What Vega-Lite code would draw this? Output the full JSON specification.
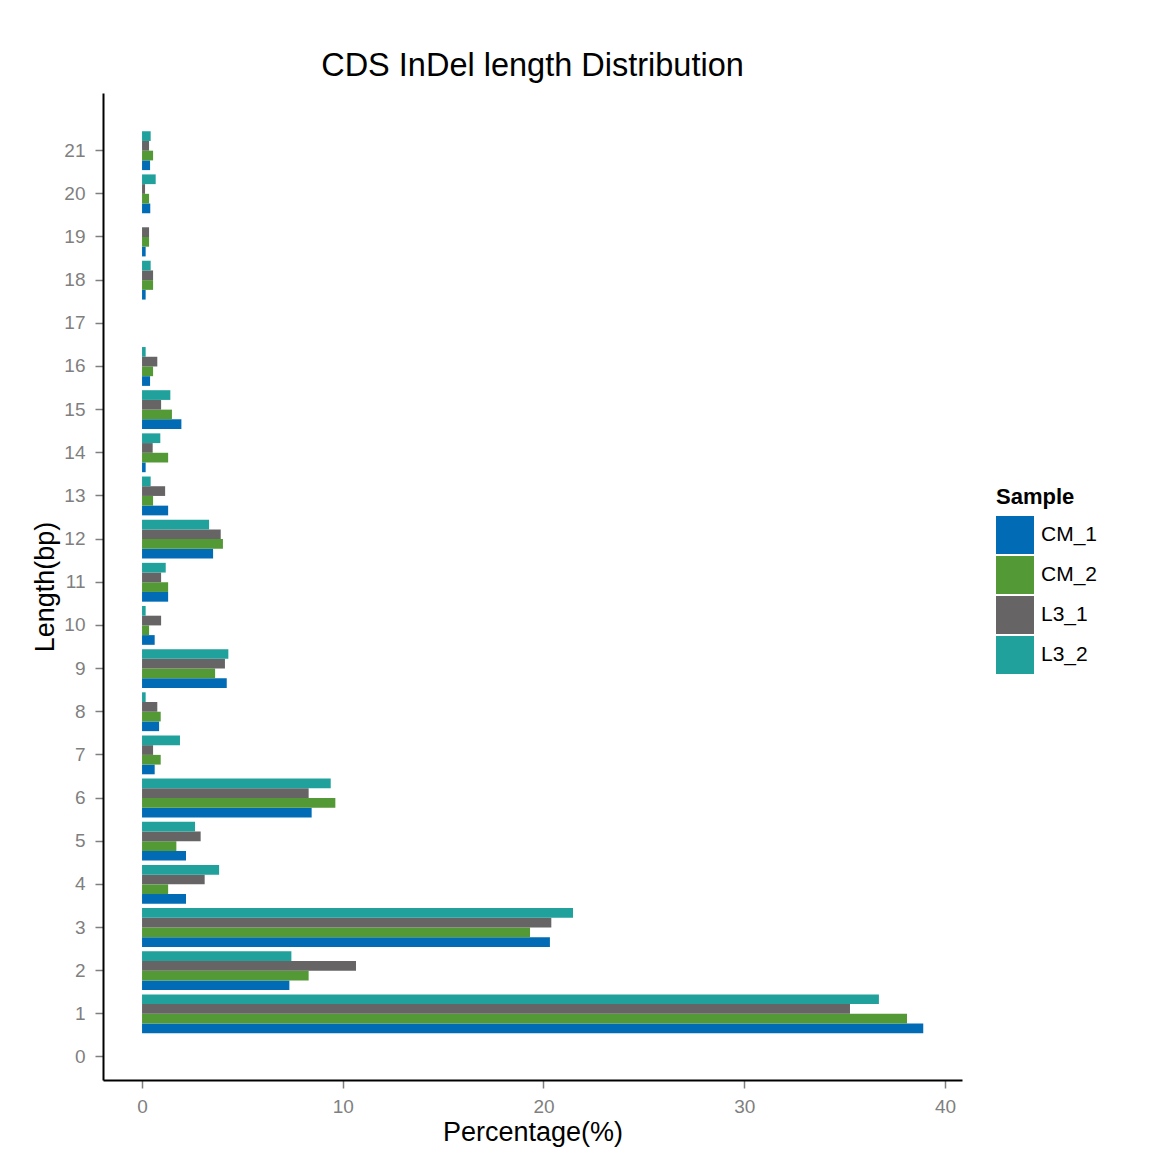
{
  "$schema": "https://vega.github.io/schema/vega-lite/v6.json",
  "width": 859,
  "height": 987,
  "autosize": {"type": "none"},
  "padding": {"left": 103, "top": 93, "right": 203, "bottom": 80},
  "background": "white",
  "title": {"text": "CDS InDel length Distribution", "fontSize": 32.5, "font": "Liberation Sans", "fontWeight": "normal", "color": "black", "anchor": "middle", "offset": 11},
  "config": {
    "view": {"stroke": null},
    "font": "Liberation Sans"
  },
  "data": {"values": [
    {"length": 1, "sample": "CM_1", "pct": 38.92},
    {"length": 1, "sample": "CM_2", "pct": 38.11},
    {"length": 1, "sample": "L3_1", "pct": 35.27},
    {"length": 1, "sample": "L3_2", "pct": 36.71},
    {"length": 2, "sample": "CM_1", "pct": 7.34},
    {"length": 2, "sample": "CM_2", "pct": 8.30},
    {"length": 2, "sample": "L3_1", "pct": 10.66},
    {"length": 2, "sample": "L3_2", "pct": 7.44},
    {"length": 3, "sample": "CM_1", "pct": 20.32},
    {"length": 3, "sample": "CM_2", "pct": 19.33},
    {"length": 3, "sample": "L3_1", "pct": 20.39},
    {"length": 3, "sample": "L3_2", "pct": 21.47},
    {"length": 4, "sample": "CM_1", "pct": 2.19},
    {"length": 4, "sample": "CM_2", "pct": 1.30},
    {"length": 4, "sample": "L3_1", "pct": 3.12},
    {"length": 4, "sample": "L3_2", "pct": 3.84},
    {"length": 5, "sample": "CM_1", "pct": 2.19},
    {"length": 5, "sample": "CM_2", "pct": 1.71},
    {"length": 5, "sample": "L3_1", "pct": 2.92},
    {"length": 5, "sample": "L3_2", "pct": 2.64},
    {"length": 6, "sample": "CM_1", "pct": 8.45},
    {"length": 6, "sample": "CM_2", "pct": 9.63},
    {"length": 6, "sample": "L3_1", "pct": 8.30},
    {"length": 6, "sample": "L3_2", "pct": 9.40},
    {"length": 7, "sample": "CM_1", "pct": 0.63},
    {"length": 7, "sample": "CM_2", "pct": 0.93},
    {"length": 7, "sample": "L3_1", "pct": 0.55},
    {"length": 7, "sample": "L3_2", "pct": 1.89},
    {"length": 8, "sample": "CM_1", "pct": 0.85},
    {"length": 8, "sample": "CM_2", "pct": 0.93},
    {"length": 8, "sample": "L3_1", "pct": 0.76},
    {"length": 8, "sample": "L3_2", "pct": 0.18},
    {"length": 9, "sample": "CM_1", "pct": 4.22},
    {"length": 9, "sample": "CM_2", "pct": 3.64},
    {"length": 9, "sample": "L3_1", "pct": 4.13},
    {"length": 9, "sample": "L3_2", "pct": 4.30},
    {"length": 10, "sample": "CM_1", "pct": 0.63},
    {"length": 10, "sample": "CM_2", "pct": 0.35},
    {"length": 10, "sample": "L3_1", "pct": 0.95},
    {"length": 10, "sample": "L3_2", "pct": 0.18},
    {"length": 11, "sample": "CM_1", "pct": 1.30},
    {"length": 11, "sample": "CM_2", "pct": 1.30},
    {"length": 11, "sample": "L3_1", "pct": 0.95},
    {"length": 11, "sample": "L3_2", "pct": 1.18},
    {"length": 12, "sample": "CM_1", "pct": 3.54},
    {"length": 12, "sample": "CM_2", "pct": 4.03},
    {"length": 12, "sample": "L3_1", "pct": 3.92},
    {"length": 12, "sample": "L3_2", "pct": 3.34},
    {"length": 13, "sample": "CM_1", "pct": 1.30},
    {"length": 13, "sample": "CM_2", "pct": 0.55},
    {"length": 13, "sample": "L3_1", "pct": 1.15},
    {"length": 13, "sample": "L3_2", "pct": 0.43},
    {"length": 14, "sample": "CM_1", "pct": 0.18},
    {"length": 14, "sample": "CM_2", "pct": 1.30},
    {"length": 14, "sample": "L3_1", "pct": 0.53},
    {"length": 14, "sample": "L3_2", "pct": 0.91},
    {"length": 15, "sample": "CM_1", "pct": 1.96},
    {"length": 15, "sample": "CM_2", "pct": 1.49},
    {"length": 15, "sample": "L3_1", "pct": 0.95},
    {"length": 15, "sample": "L3_2", "pct": 1.41},
    {"length": 16, "sample": "CM_1", "pct": 0.40},
    {"length": 16, "sample": "CM_2", "pct": 0.55},
    {"length": 16, "sample": "L3_1", "pct": 0.76},
    {"length": 16, "sample": "L3_2", "pct": 0.18},
    {"length": 18, "sample": "CM_1", "pct": 0.18},
    {"length": 18, "sample": "CM_2", "pct": 0.55},
    {"length": 18, "sample": "L3_1", "pct": 0.55},
    {"length": 18, "sample": "L3_2", "pct": 0.43},
    {"length": 19, "sample": "CM_1", "pct": 0.18},
    {"length": 19, "sample": "CM_2", "pct": 0.35},
    {"length": 19, "sample": "L3_1", "pct": 0.35},
    {"length": 20, "sample": "CM_1", "pct": 0.41},
    {"length": 20, "sample": "CM_2", "pct": 0.35},
    {"length": 20, "sample": "L3_1", "pct": 0.15},
    {"length": 20, "sample": "L3_2", "pct": 0.68},
    {"length": 21, "sample": "CM_1", "pct": 0.40},
    {"length": 21, "sample": "CM_2", "pct": 0.55},
    {"length": 21, "sample": "L3_1", "pct": 0.35},
    {"length": 21, "sample": "L3_2", "pct": 0.43}
  ]},
  "mark": {"type": "bar"},
  "encoding": {
    "y": {
      "field": "length",
      "type": "ordinal",
      "scale": {
        "domain": [21,20,19,18,17,16,15,14,13,12,11,10,9,8,7,6,5,4,3,2,1,0],
        "paddingInner": 0.1,
        "paddingOuter": 0.485,
        "align": 0.914,
        "round": false
      },
      "axis": {
        "title": "Length(bp)",
        "titleFontSize": 27,
        "titleFontWeight": "normal",
        "titleColor": "black",
        "titlePadding": 4,
        "labelFontSize": 19,
        "labelColor": "#7f7f7f",
        "labelPadding": 10,
        "labelAngle": 0,
        "tickColor": "#7f7f7f",
        "tickSize": 8,
        "tickWidth": 1.5,
        "domainColor": "black",
        "domainWidth": 2,
        "grid": false
      }
    },
    "yOffset": {
      "field": "sample",
      "type": "nominal",
      "scale": {"domain": ["L3_2", "L3_1", "CM_2", "CM_1"], "paddingInner": 0, "paddingOuter": 0}
    },
    "x": {
      "field": "pct",
      "type": "quantitative",
      "scale": {"domain": [-1.945, 40.85], "nice": false, "zero": false},
      "axis": {
        "title": "Percentage(%)",
        "values": [0, 10, 20, 30, 40],
        "titleFontSize": 27,
        "titleFontWeight": "normal",
        "titleColor": "black",
        "titlePadding": 3,
        "labelFontSize": 19,
        "labelColor": "#7f7f7f",
        "labelPadding": 9,
        "tickColor": "#7f7f7f",
        "tickSize": 8,
        "tickWidth": 1.5,
        "domainColor": "black",
        "domainWidth": 2,
        "grid": false
      }
    },
    "x2": {"datum": 0},
    "color": {
      "field": "sample",
      "type": "nominal",
      "scale": {"domain": ["CM_1", "CM_2", "L3_1", "L3_2"], "range": ["#016CB5", "#539935", "#666465", "#20A19C"]},
      "legend": {
        "title": "Sample",
        "orient": "none",
        "legendX": 893,
        "legendY": 394,
        "titleFontSize": 22,
        "titleFontWeight": "bold",
        "titleColor": "black",
        "titlePadding": 7,
        "labelFontSize": 21,
        "labelColor": "black",
        "labelOffset": 7,
        "symbolType": "square",
        "symbolSize": 1444,
        "symbolStrokeWidth": 0,
        "symbolOpacity": 1,
        "rowPadding": 2
      }
    }
  }
}
